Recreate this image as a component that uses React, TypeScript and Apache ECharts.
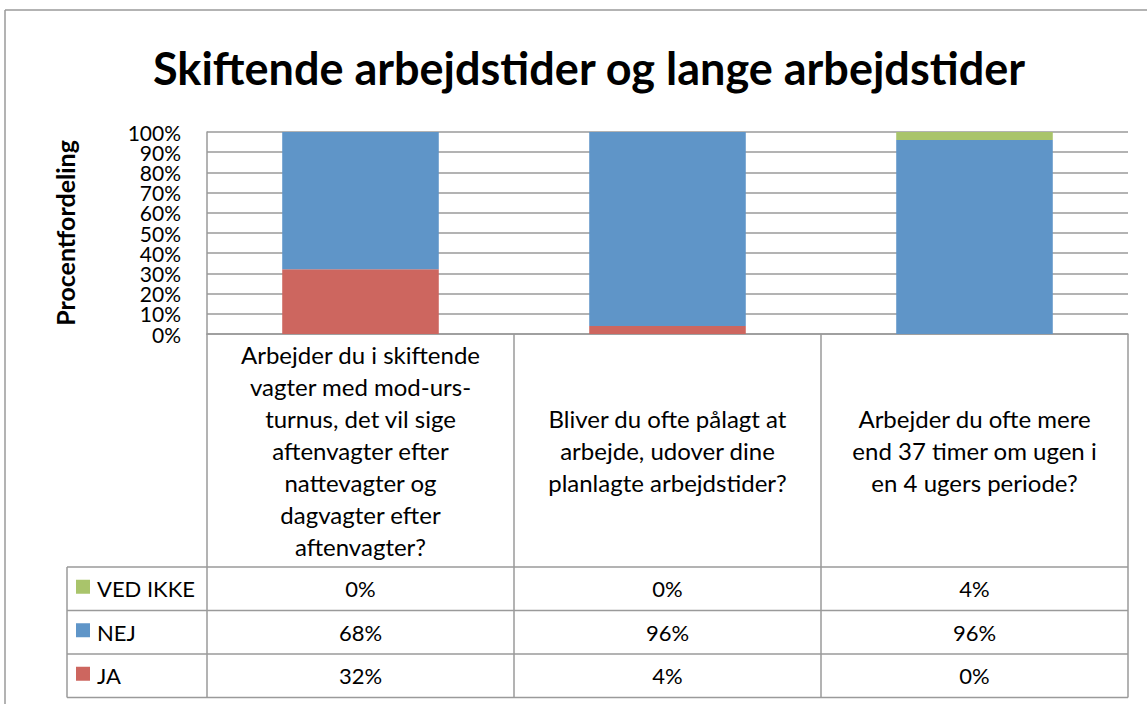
import React, { useEffect, useRef } from "react";
import * as echarts from "echarts";

// ---- data ----
const categories = [
  "Arbejder du i skiftende\nvagter med mod-urs-\nturnus, det vil sige\naftenvagter efter\nnattevagter og\ndagvagter efter\naftenvagter?",
  "Bliver du ofte pålagt at\narbejde, udover dine\nplanlagte arbejdstider?",
  "Arbejder du ofte mere\nend 37 timer om ugen i\nen 4 ugers periode?",
];
const jaValues = [32, 4, 0];
const nejValues = [68, 96, 96];
const vedIkkeValues = [0, 0, 4];
const seriesNames = ["JA", "NEJ", "VED IKKE"];
const yTicks = [0, 10, 20, 30, 40, 50, 60, 70, 80, 90, 100];
const titleText = "Skiftende arbejdstider og lange arbejdstider";
const yAxisName = "Procentfordeling";

// ---- style / layout ----
const COLORS = { JA: "#CD665F", NEJ: "#5F95C8", "VED IKKE": "#A9C46B" };
const FONT = "Lato, 'Open Sans', sans-serif";
const W = 1147;
const H = 704;
const PLOT_L = 207;
const PLOT_R = 1128;
const PLOT_T = 132;
const PLOT_B = 334;
const CAT_B = 567;
const ROW_H = 43.5;
const LEG_L = 67;
const LINE = "#9a9a9a";

export default function App() {
  const ref = useRef<HTMLDivElement>(null);

  useEffect(() => {
    if (!ref.current) return;
    const chart = echarts.init(ref.current, null, { renderer: "svg" });

    const seriesData: Record<string, number[]> = {
      JA: jaValues,
      NEJ: nejValues,
      "VED IKKE": vedIkkeValues,
    };

    chart.setOption({
      animation: false,
      backgroundColor: "#fff",
      title: {
        text: titleText,
        left: 148,
        top: 40,
        textStyle: { fontFamily: FONT, fontWeight: "bold", fontSize: 45, color: "#000" },
      },
      grid: {
        left: PLOT_L,
        right: W - PLOT_R,
        top: PLOT_T,
        bottom: H - PLOT_B,
        containLabel: false,
      },
      xAxis: {
        type: "category",
        data: categories,
        axisLine: { show: true, lineStyle: { color: LINE, width: 1.5 } },
        axisTick: { show: false },
        axisLabel: {
          interval: 0,
          margin: (CAT_B - PLOT_B) / 2,
          verticalAlign: "middle",
          lineHeight: 32,
          fontSize: 24,
          fontFamily: FONT,
          color: "#000",
          align: "center",
        },
      },
      yAxis: {
        type: "value",
        min: 0,
        max: 100,
        interval: 10,
        name: yAxisName,
        nameLocation: "middle",
        nameGap: 130,
        nameRotate: 90,
        nameTextStyle: { fontFamily: FONT, fontWeight: "bold", fontSize: 25, color: "#000" },
        axisLine: { show: true, lineStyle: { color: LINE, width: 1.5 } },
        axisTick: { show: false },
        axisLabel: { show: false },
        splitLine: { show: true, lineStyle: { color: LINE, width: 1.5 } },
      },
      series: seriesNames.map((name) => ({
        name,
        type: "bar",
        stack: "total",
        barWidth: "51%",
        data: seriesData[name],
        itemStyle: { color: (COLORS as any)[name] },
      })),
    });

    const tableRows = ["VED IKKE", "NEJ", "JA"];
    const tableBottom = CAT_B + ROW_H * tableRows.length;
    const colW = (PLOT_R - PLOT_L) / categories.length;

    const graphics: any[] = [];
    const ls = { stroke: LINE, lineWidth: 1.5 };
    // outer chart border
    graphics.push({ type: "line", shape: { x1: 5, y1: 10, x2: 5, y2: H }, style: ls });
    graphics.push({ type: "line", shape: { x1: 5, y1: 10, x2: W, y2: 10 }, style: ls });
    // table horizontal lines
    for (let r = 0; r <= tableRows.length; r++) {
      const y = CAT_B + r * ROW_H;
      graphics.push({ type: "line", shape: { x1: LEG_L, y1: y, x2: PLOT_R, y2: y }, style: ls });
    }
    // table vertical lines
    graphics.push({ type: "line", shape: { x1: LEG_L, y1: CAT_B, x2: LEG_L, y2: tableBottom }, style: ls });
    for (let c = 0; c <= categories.length; c++) {
      const x = PLOT_L + c * colW;
      graphics.push({ type: "line", shape: { x1: x, y1: PLOT_B, x2: x, y2: tableBottom }, style: ls });
    }
    // y-axis tick labels (positions from the axis scale)
    yTicks.forEach((t) => {
      const y = chart.convertToPixel({ yAxisIndex: 0 }, t) as number;
      graphics.push({
        type: "text",
        x: 181,
        y,
        style: {
          text: `${t}%`,
          font: `21px ${FONT}`,
          fill: "#000",
          textAlign: "right",
          textVerticalAlign: "middle",
        },
      });
    });
    // legend keys + values
    tableRows.forEach((name, r) => {
      const yc = CAT_B + r * ROW_H + ROW_H / 2;
      graphics.push({
        type: "rect",
        shape: { x: 76, y: yc - 9, width: 14, height: 14 },
        style: { fill: (COLORS as any)[name] },
      });
      graphics.push({
        type: "text",
        x: 97,
        y: yc,
        style: {
          text: name,
          font: `22px ${FONT}`,
          fill: "#000",
          textAlign: "left",
          textVerticalAlign: "middle",
        },
      });
      seriesData[name].forEach((v, c) => {
        graphics.push({
          type: "text",
          x: PLOT_L + c * colW + colW / 2,
          y: yc,
          style: {
            text: `${v}%`,
            font: `22px ${FONT}`,
            fill: "#000",
            textAlign: "center",
            textVerticalAlign: "middle",
          },
        });
      });
    });

    chart.setOption({ graphic: graphics });

    return () => chart.dispose();
  }, []);

  return (
    <div
      ref={ref}
      style={{ position: "fixed", left: 0, top: 0, width: W, height: H, background: "#fff" }}
    />
  );
}
